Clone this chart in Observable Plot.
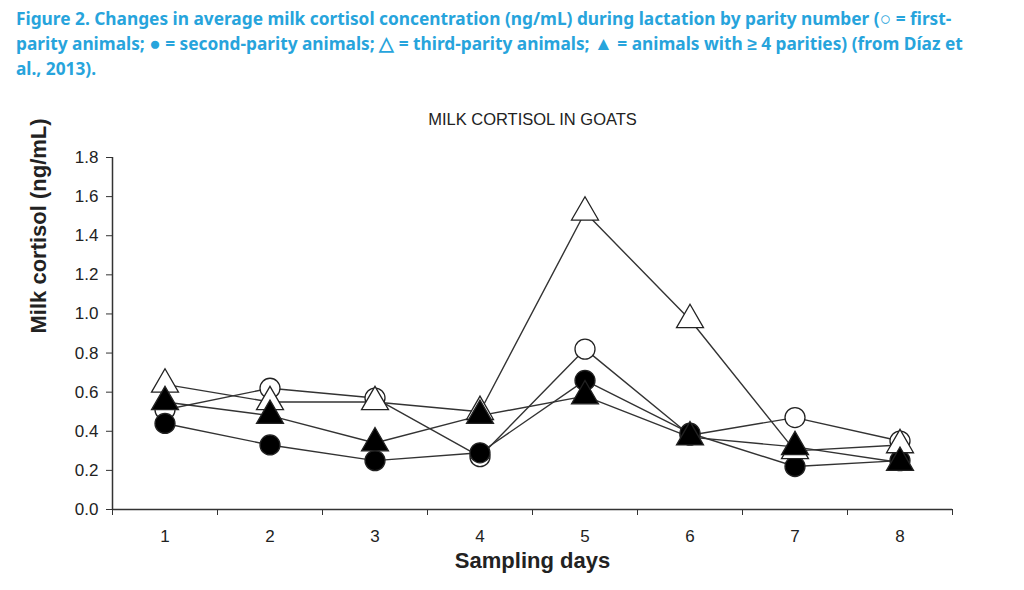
<!DOCTYPE html>
<html><head><meta charset="utf-8">
<script src="https://cdn.jsdelivr.net/npm/d3@7"></script>
<script src="https://cdn.jsdelivr.net/npm/@observablehq/plot@0.6"></script>
<style>
body{margin:0;background:#fff;width:1024px;height:590px;overflow:hidden}
#cap{position:absolute;left:16px;top:6px;width:950px;font:bold 17.3px "Noto Sans",sans-serif;line-height:25px;color:#27a4dc}
#cap .g{font-size:19px;line-height:10px}
#chart{position:absolute;left:0;top:95px}
</style></head><body>
<div id="cap">Figure 2. Changes in average milk cortisol concentration (ng/mL) during lactation by parity number (<span class="g">○</span> = first-parity animals; <span class="g">●</span> = second-parity animals; <span class="g">△</span> = third-parity animals; <span class="g">▲</span> = animals with ≥ 4 parities) (from Díaz et al., 2013).</div>
<div id="chart"></div>
<script>
const days = [1,2,3,4,5,6,7,8];
const firstParity  = [0.51,0.62,0.57,0.27,0.82,0.38,0.47,0.35];
const secondParity = [0.44,0.33,0.25,0.29,0.66,0.39,0.22,0.25];
const thirdParity  = [0.64,0.55,0.55,0.50,1.52,0.97,0.30,0.33];
const fourPlus     = [0.55,0.48,0.34,0.48,0.58,0.37,0.32,0.24];
const yTicks = [0,0.2,0.4,0.6,0.8,1.0,1.2,1.4,1.6,1.8];

const series = [
  {name:"first", vals:firstParity, symbol:"circle", fill:"white"},
  {name:"second", vals:secondParity, symbol:"circle", fill:"black"},
  {name:"third", vals:thirdParity, symbol:"triangle", fill:"white"},
  {name:"four", vals:fourPlus, symbol:"triangle", fill:"black"}
];
const data = series.flatMap(s => days.map((d,i)=>({day:d, v:s.vals[i], s:s.name})));

const marks = [
  Plot.axisY({ticks:yTicks, tickFormat:d3.format(".1f"), tickSize:6, tickPadding:8, fontSize:17, label:null, stroke:"#333"}),
  Plot.axisX({ticks:[0.5,1.5,2.5,3.5,4.5,5.5,6.5,7.5,8.5], tickFormat:()=>"", tickSize:6, label:null, stroke:"#333"}),
  Plot.axisX({ticks:days, tickSize:0, tickPadding:20, fontSize:17, label:null}),
  Plot.ruleY([0], {stroke:"#333", strokeWidth:1.5}),
  Plot.ruleX([0.5], {stroke:"#333", strokeWidth:1.5}),
  Plot.lineY(data, {x:"day", y:"v", z:"s", stroke:"#333", strokeWidth:1.4})
];
for (const s of series) {
  const d = data.filter(e=>e.s===s.name);
  marks.push(Plot.dot(d, {x:"day", y:"v", symbol:()=>s.symbol, r: s.symbol==="circle"?10:10, fill:s.fill, stroke:"#222", strokeWidth:1.3}));
}
marks.push(Plot.text(["MILK CORTISOL IN GOATS"], {frameAnchor:"top", dy:-44, fontSize:16.5}));
marks.push(Plot.text(["Sampling days"], {frameAnchor:"bottom", dy:58, fontSize:22, fontWeight:"bold"}));
marks.push(Plot.text(["Milk cortisol (ng/mL)"], {frameAnchor:"left", dx:-74, rotate:-90, fontSize:22, fontWeight:"bold"}));

const chart = Plot.plot({
  width:1024, height:495,
  marginLeft:112, marginRight:72, marginTop:62, marginBottom:81,
  style:{fontFamily:"Arial, 'Liberation Sans', sans-serif", color:"#222"},
  x:{domain:[0.5,8.5]},
  y:{domain:[0,1.8]},
  symbol:{type:"identity"},
  marks
});
document.getElementById("chart").appendChild(chart);
</script>
</body></html>
